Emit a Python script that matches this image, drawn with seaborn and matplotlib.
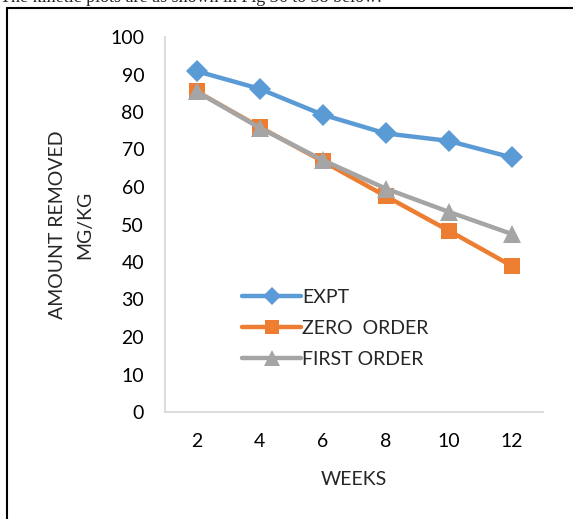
import matplotlib
matplotlib.use("Agg")
import matplotlib.pyplot as plt
from matplotlib.lines import Line2D
import seaborn as sns
import pandas as pd

weeks = ["2", "4", "6", "8", "10", "12"]
expt = [90.9, 86.2, 79.3, 74.3, 72.3, 67.9]
zero_order = [85.5, 76.0, 66.9, 57.6, 48.4, 39.0]
first_order = [85.5, 75.8, 67.2, 59.6, 53.4, 47.5]
series_names = ["EXPT", "ZERO  ORDER", "FIRST ORDER"]
y_ticks = [0, 10, 20, 30, 40, 50, 60, 70, 80, 90, 100]

colors = {"EXPT": "#5B9BD5", "ZERO  ORDER": "#ED7D31", "FIRST ORDER": "#A5A5A5"}
markers = {"EXPT": "D", "ZERO  ORDER": "s", "FIRST ORDER": "^"}
marker_sizes = {"EXPT": 11, "ZERO  ORDER": 12, "FIRST ORDER": 13}

rows = []
for name, vals in zip(series_names, [expt, zero_order, first_order]):
    for w, v in zip(weeks, vals):
        rows.append({"week": w, "amount": v, "series": name})
df = pd.DataFrame(rows)

sns.set_theme(style="white")
plt.rcParams["font.family"] = ["Lato", "DejaVu Sans"]

W, H, DPI = 573, 519, 100
fig = plt.figure(figsize=(W / DPI, H / DPI), dpi=DPI)
ax = fig.add_axes([165 / W, 1 - 412 / H, (543 - 165) / W, (412 - 37) / H])

for name in series_names:
    sns.lineplot(data=df[df["series"] == name], x="week", y="amount",
                 color=colors[name], marker=markers[name], sort=False,
                 linewidth=3.2, markersize=marker_sizes[name],
                 markeredgewidth=0, ax=ax, legend=False)

ax.set_xlim(-0.5, 5.5)
ax.set_ylim(0, 100)
ax.set_yticks(y_ticks)
ax.set_yticklabels([str(t) for t in y_ticks])
ax.tick_params(axis="both", length=0, labelsize=14, colors="black")
ax.tick_params(axis="y", pad=15)
ax.tick_params(axis="x", pad=15)
ax.set_xlabel("WEEKS", fontsize=14, labelpad=15)
ax.set_ylabel("AMOUNT REMOVED\nMG/KG", fontsize=14, labelpad=12, linespacing=1.75)

for side in ("top", "right"):
    ax.spines[side].set_visible(False)
for side in ("left", "bottom"):
    ax.spines[side].set_color("#D9D9D9")
    ax.spines[side].set_linewidth(1.3)

handles = [Line2D([], [], color=colors[n], marker=markers[n], linewidth=3.2,
                  markersize=marker_sizes[n] - 2, markeredgewidth=0)
           for n in series_names]
ax.legend(handles, series_names, loc="upper left", bbox_to_anchor=(0.205, 0.328),
          frameon=False, fontsize=14, handlelength=3.0, handletextpad=0.05,
          labelspacing=0.72, borderpad=0, borderaxespad=0)

# surrounding frame
fig.add_artist(Line2D([7 / W, 7 / W], [0, 1 - 8 / H], color="black",
                      linewidth=1.5, transform=fig.transFigure))
fig.add_artist(Line2D([7 / W, 1], [1 - 8 / H, 1 - 8 / H], color="black",
                      linewidth=1.5, transform=fig.transFigure))

fig.text(0.0, 1 - 2 / H, "The kinetic plots are as shown in Fig 36 to 38 below:",
         family="Liberation Serif", fontsize=13, va="baseline", ha="left")

fig.savefig("out.png", dpi=DPI)
